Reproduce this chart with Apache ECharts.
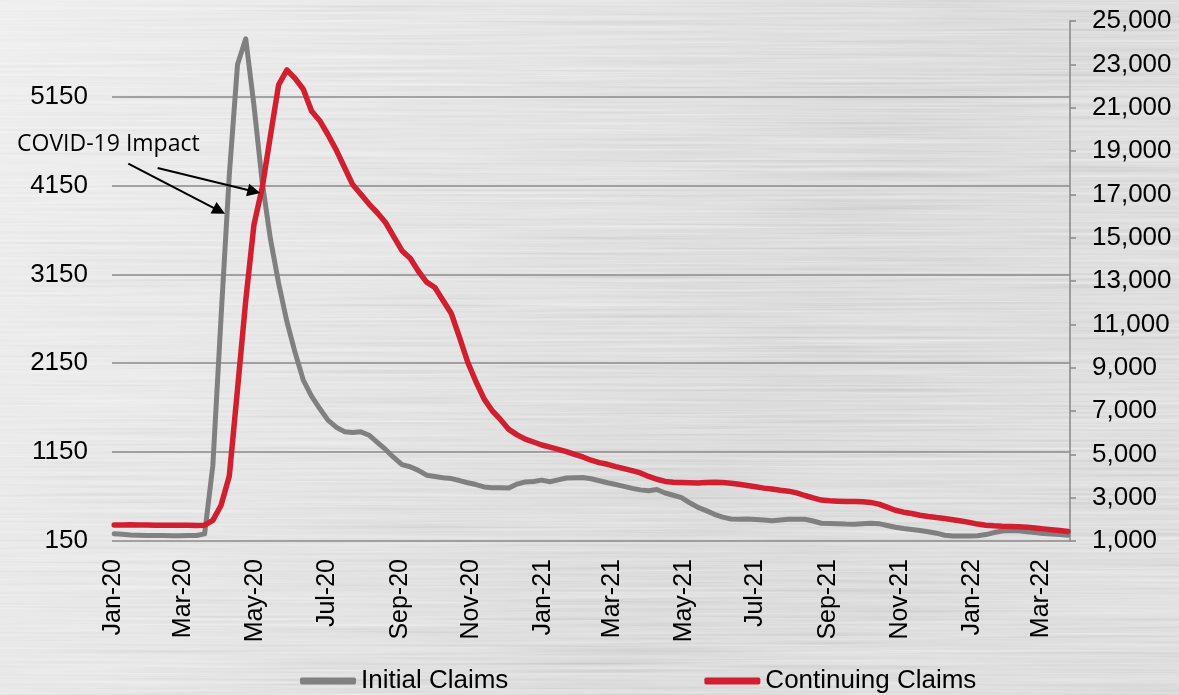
<!DOCTYPE html>
<html>
<head>
<meta charset="utf-8">
<title>Initial and Continuing Claims</title>
<script src="https://cdn.jsdelivr.net/npm/echarts@6/dist/echarts.min.js"></script>
<style>
  html, body { margin: 0; padding: 0; width: 1179px; height: 695px; overflow: hidden; background: #d8d8d8; }
  #metal { position: absolute; left: 0; top: 0; }
  #chart { position: absolute; left: 0; top: 0; width: 1179px; height: 695px; }
</style>
</head>
<body>
<!-- brushed-metal backdrop -->
<svg id="metal" width="1179" height="695" xmlns="http://www.w3.org/2000/svg">
  <defs>
    <linearGradient id="base" x1="0" y1="0" x2="1" y2="0.3">
      <stop offset="0" stop-color="#e6e6e6"/>
      <stop offset="0.35" stop-color="#d9d9d9"/>
      <stop offset="0.75" stop-color="#c8c8c8"/>
      <stop offset="1" stop-color="#cdcdcd"/>
    </linearGradient>
    <filter id="brush" x="0" y="0" width="100%" height="100%">
      <feTurbulence type="fractalNoise" baseFrequency="0.004 0.38" numOctaves="3" seed="7" result="n"/>
      <feColorMatrix in="n" type="matrix"
        values="0.33 0.33 0.33 0 0  0.33 0.33 0.33 0 0  0.33 0.33 0.33 0 0  0 0 0 0 1"/>
    </filter>
  </defs>
  <rect width="1179" height="695" fill="url(#base)"/>
  <rect width="1179" height="695" filter="url(#brush)" opacity="0.8" style="mix-blend-mode:overlay"/>
</svg>
<div id="chart"></div>
<script>
// Weekly report dates (Thursdays)
const weeks = [
  '2020-01-02','2020-01-09','2020-01-16','2020-01-23','2020-01-30',
  '2020-02-06','2020-02-13','2020-02-20','2020-02-27',
  '2020-03-05','2020-03-12','2020-03-19','2020-03-26',
  '2020-04-02','2020-04-09','2020-04-16','2020-04-23','2020-04-30',
  '2020-05-07','2020-05-14','2020-05-21','2020-05-28',
  '2020-06-04','2020-06-11','2020-06-18','2020-06-25',
  '2020-07-02','2020-07-09','2020-07-16','2020-07-23','2020-07-30',
  '2020-08-06','2020-08-13','2020-08-20','2020-08-27',
  '2020-09-03','2020-09-10','2020-09-17','2020-09-24',
  '2020-10-01','2020-10-08','2020-10-15','2020-10-22','2020-10-29',
  '2020-11-05','2020-11-12','2020-11-19','2020-11-26',
  '2020-12-03','2020-12-10','2020-12-17','2020-12-24','2020-12-31',
  '2021-01-07','2021-01-14','2021-01-21','2021-01-28',
  '2021-02-04','2021-02-11','2021-02-18','2021-02-25',
  '2021-03-04','2021-03-11','2021-03-18','2021-03-25',
  '2021-04-01','2021-04-08','2021-04-15','2021-04-22','2021-04-29',
  '2021-05-06','2021-05-13','2021-05-20','2021-05-27',
  '2021-06-03','2021-06-10','2021-06-17','2021-06-24',
  '2021-07-01','2021-07-08','2021-07-15','2021-07-22','2021-07-29',
  '2021-08-05','2021-08-12','2021-08-19','2021-08-26',
  '2021-09-02','2021-09-09','2021-09-16','2021-09-23','2021-09-30',
  '2021-10-07','2021-10-14','2021-10-21','2021-10-28',
  '2021-11-04','2021-11-11','2021-11-18','2021-11-25',
  '2021-12-02','2021-12-09','2021-12-16','2021-12-23','2021-12-30',
  '2022-01-06','2022-01-13','2022-01-20','2022-01-27',
  '2022-02-03','2022-02-10','2022-02-17','2022-02-24',
  '2022-03-03','2022-03-10','2022-03-17','2022-03-24'
];

// Initial claims, thousands (left axis)
const initialClaims = [
  232, 225, 218, 215, 213, 212, 211, 210, 210, 211, 212, 230, 1000,
  2670, 4270, 5510, 5800, 5050, 4190, 3550, 3050, 2620, 2270, 1960, 1780,
  1640, 1510, 1430, 1380, 1370, 1378, 1340, 1260, 1180, 1090, 1010, 985,
  945, 890, 875, 862, 852, 830, 805, 785, 758, 748, 748, 745, 790, 815,
  820, 835,
  816, 838, 858, 862, 865, 850, 828, 805, 785, 765, 742, 725, 715, 730,
  690, 665, 638, 580, 528, 492, 450, 418, 398, 394, 397, 392, 385, 378,
  385, 394, 396, 394, 375, 350, 348, 345, 340, 338, 345, 350, 345, 325,
  305, 290, 280, 268, 255, 238, 215, 207, 205, 205,
  210, 222, 245, 263, 268, 266, 255, 245, 235, 228, 222, 215
];

// Continuing claims, thousands (right axis)
const continuingClaims = [
  1740, 1740, 1745, 1740, 1735, 1730, 1725, 1725, 1725, 1725, 1720, 1730, 1950,
  2650, 4000, 8000, 12100, 15600, 17300, 19700, 22050, 22740, 22350, 21850, 20850,
  20400, 19750, 19050, 18250, 17450, 17000, 16550, 16150, 15700, 15050, 14400, 14050,
  13450, 12950, 12700, 12100, 11500, 10400, 9250, 8350, 7550, 7000, 6600, 6150, 5900, 5700,
  5570, 5430,
  5330, 5230, 5120, 5000, 4880, 4730, 4620, 4540, 4430, 4340, 4250, 4140, 3980, 3850,
  3750, 3710, 3700, 3690, 3680, 3700, 3710, 3700, 3670, 3620, 3560, 3500, 3440, 3400,
  3340, 3300, 3220, 3100, 2990, 2890, 2860, 2840, 2820, 2820, 2810, 2780, 2700, 2560,
  2420, 2330, 2270, 2190, 2130, 2080, 2040, 1980, 1920, 1860,
  1780, 1730, 1700, 1680, 1670, 1660, 1640, 1600, 1560, 1520, 1480, 1440
];

// Axis ticks
const leftTicks = [150, 1150, 2150, 3150, 4150, 5150];
const rightTicks = [1000, 3000, 5000, 7000, 9000, 11000, 13000, 15000, 17000, 19000, 21000, 23000, 25000];
const monthTicks = [
  '2020-01-01','2020-03-01','2020-05-01','2020-07-01','2020-09-01','2020-11-01',
  '2021-01-01','2021-03-01','2021-05-01','2021-07-01','2021-09-01','2021-11-01',
  '2022-01-01','2022-03-01'
];
const monthNames = ['Jan','Feb','Mar','Apr','May','Jun','Jul','Aug','Sep','Oct','Nov','Dec'];

// Annotation arrows: [start, end] in (date, left-axis value)
const covidArrows = [
  [['2020-01-14', 4395], ['2020-03-31 12:00', 3865]],
  [['2020-02-08', 4346], ['2020-04-30', 4081]]
];

// Dates are placed on a linear millisecond scale
const ts = s => echarts.time.parse(s).getTime();
const pairs = vals => weeks.map((d, i) => [ts(d), vals[i]]);

const axisFont = '"Liberation Sans", Arial, sans-serif';

const chart = echarts.init(document.getElementById('chart'), null, { renderer: 'canvas' });

chart.setOption({
  backgroundColor: 'transparent',
  animation: false,
  grid: { left: 112, right: 109, top: 21, bottom: 154, containLabel: false, outerBoundsMode: 'none' },
  legend: {
    left: 300, top: 668, padding: 0,
    itemWidth: 56, itemHeight: 7, itemGap: 196,
    icon: 'roundRect',
    textStyle: { fontFamily: axisFont, fontSize: 26, color: '#000' },
    data: ['Initial Claims', 'Continuing Claims']
  },
  xAxis: {
    type: 'value',
    min: ts('2019-12-31 03:30'),
    max: ts('2022-03-25 17:00'),
    axisLine: { show: false },
    axisTick: { show: false, customValues: monthTicks.map(ts) },
    splitLine: { show: false },
    axisLabel: {
      customValues: monthTicks.map(ts),
      rotate: 90,
      margin: 18,
      fontFamily: axisFont,
      fontSize: 25,
      color: '#000',
      hideOverlap: false,
      formatter: v => {
        const d = new Date(v);
        return monthNames[d.getMonth()] + '-' + String(d.getFullYear()).slice(2);
      }
    }
  },
  yAxis: [
    {
      type: 'value',
      position: 'left',
      min: 150, max: 6000,
      axisLine: { show: false },
      axisTick: { show: false, customValues: leftTicks },
      axisLabel: {
        customValues: leftTicks, margin: 24, fontFamily: axisFont, fontSize: 26, color: '#000',
        formatter: v => String(v)
      },
      splitLine: { show: true, lineStyle: { color: '#8a8a8a', width: 1.6 } }
    },
    {
      type: 'value',
      position: 'right',
      min: 1000, max: 25000,
      axisLine: { show: true, lineStyle: { color: '#8c8c8c', width: 1.6 } },
      axisTick: { show: true, inside: false, length: 6, customValues: rightTicks, lineStyle: { color: '#8c8c8c', width: 1.6 } },
      axisLabel: {
        customValues: rightTicks, margin: 22, fontFamily: axisFont, fontSize: 26, color: '#000',
        formatter: v => v.toLocaleString('en-US')
      },
      splitLine: { show: false }
    }
  ],
  series: [
    {
      name: 'Initial Claims',
      type: 'line',
      yAxisIndex: 0,
      data: pairs(initialClaims),
      showSymbol: false,
      symbol: 'none',
      color: '#808080',
      lineStyle: { color: '#808080', width: 5, cap: 'round', join: 'round' },
      emphasis: { disabled: true },
      z: 3,
      markLine: {
        silent: true,
        animation: false,
        symbol: ['none', 'triangle'],
        symbolSize: 13,
        label: { show: false },
        emphasis: { disabled: true },
        lineStyle: { color: '#000', width: 2, type: 'solid' },
        data: covidArrows.map(([a, b]) => [
          { coord: [ts(a[0]), a[1]], symbol: 'none' },
          { coord: [ts(b[0]), b[1]], symbol: 'triangle', symbolSize: 13 }
        ])
      }
    },
    {
      name: 'Continuing Claims',
      type: 'line',
      yAxisIndex: 1,
      data: pairs(continuingClaims),
      showSymbol: false,
      symbol: 'none',
      color: '#d21f30',
      lineStyle: { color: '#d21f30', width: 5.5, cap: 'round', join: 'round' },
      emphasis: { disabled: true },
      z: 4
    }
  ],
  graphic: [
    {
      type: 'text',
      left: 17,
      top: 133,
      silent: true,
      style: { text: 'COVID-19 Impact', fontFamily: '"Open Sans", sans-serif', fontSize: 23, fill: '#000' }
    }
  ]
});
</script>
</body>
</html>
